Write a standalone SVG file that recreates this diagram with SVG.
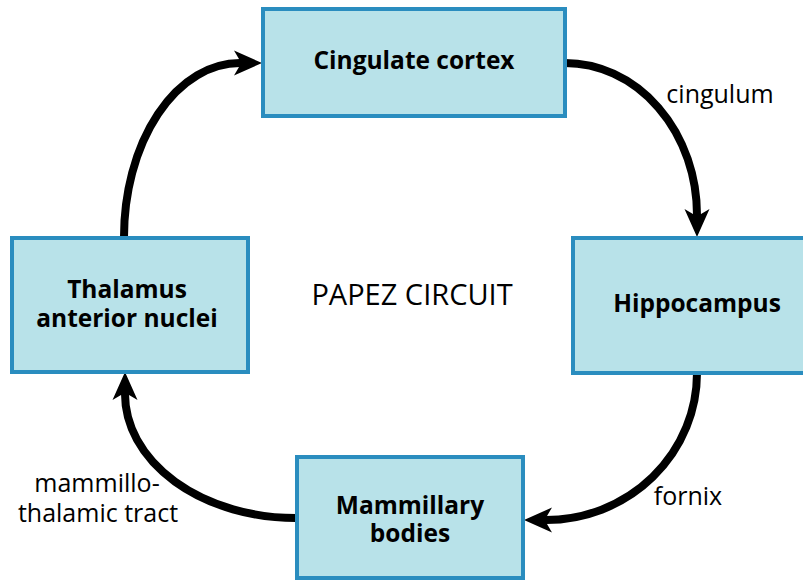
<svg xmlns="http://www.w3.org/2000/svg" width="803" height="581" viewBox="0 0 803 581">
<style>
.box{fill:#b8e2e9;stroke:#2a8dbf;stroke-width:4}
.bt{font-family:"Open Sans","DejaVu Sans",sans-serif;font-weight:bold;font-size:24.5px;fill:#000;text-anchor:middle}
.lt{font-family:"Open Sans","DejaVu Sans",sans-serif;font-size:25px;fill:#000;text-anchor:middle}
.conn{fill:none;stroke:#000;stroke-width:8;marker-end:url(#ah)}
</style>
<defs>
<marker id="ah" markerUnits="userSpaceOnUse" markerWidth="40" markerHeight="40" viewBox="-10 -15 40 30" refX="0" refY="0" orient="auto">
<path d="M-1,-4 L-6,-12.5 L22,0 L-6,12.5 L-1,4 Z" fill="#000"/>
</marker>
</defs>
<rect width="803" height="581" fill="#fff"/>
<g id="connectors">
<path class="conn" d="M565,63 A132 152 0 0 1 697,215"/>
<path class="conn" d="M697,373 A151 147 0 0 1 546,520"/>
<path class="conn" d="M296,518 A171 124 0 0 1 125,394"/>
<path class="conn" d="M124,237 A116 174 0 0 1 240,63"/>
</g>
<g id="cingulate">
<rect class="box" x="263" y="9" width="302" height="107"/>
<text class="bt" x="414" y="69">Cingulate cortex</text>
</g>
<g id="hippocampus">
<rect class="box" x="573" y="238" width="240" height="135"/>
<text class="bt" x="697" y="312">Hippocampus</text>
</g>
<g id="mammillary">
<rect class="box" x="297" y="457" width="226" height="121"/>
<text class="bt" x="410" y="514">Mammillary</text>
<text class="bt" x="410" y="542">bodies</text>
</g>
<g id="thalamus">
<rect class="box" x="12" y="238" width="236" height="134"/>
<text class="bt" x="127" y="298">Thalamus</text>
<text class="bt" x="127" y="327">anterior nuclei</text>
</g>
<g id="labels">
<text class="lt" x="720" y="103">cingulum</text>
<text class="lt" x="688" y="505">fornix</text>
<text class="lt" x="97" y="492">mammillo-</text>
<text class="lt" x="98" y="522">thalamic tract</text>
<text class="lt" x="412" y="305" style="font-size:29px">PAPEZ CIRCUIT</text>
</g>
</svg>
